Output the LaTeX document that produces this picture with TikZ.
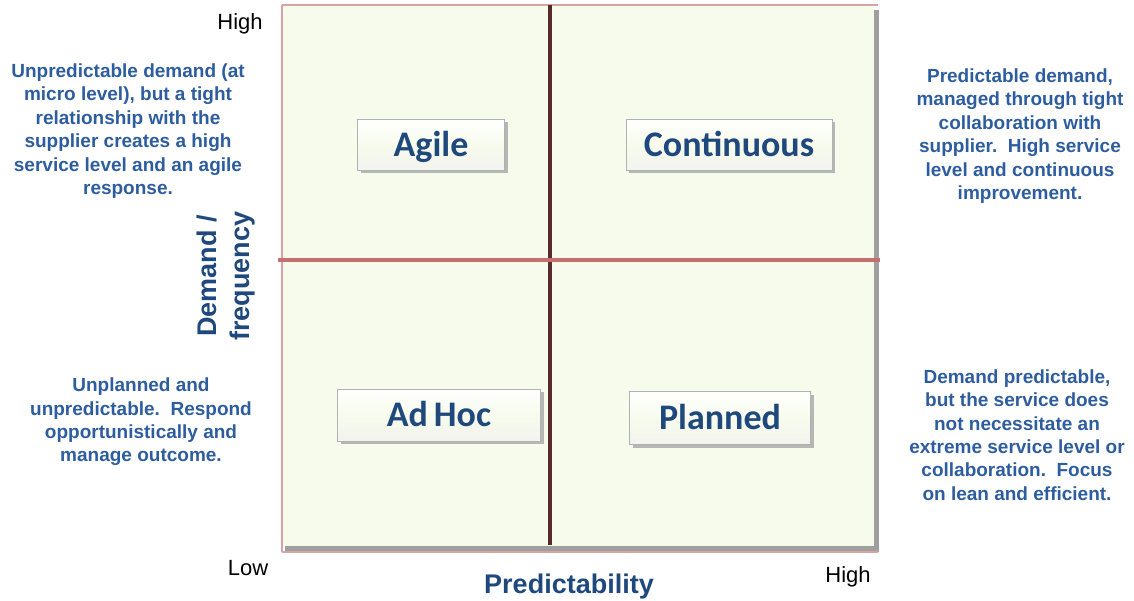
\documentclass[tikz,border=0pt]{standalone}
\usepackage{fontspec}
\setmainfont{Liberation Sans}
\newfontfamily\btnfont{Carlito}
\usetikzlibrary{shadows}

\definecolor{quadfill}{HTML}{F7FBEC}
\definecolor{rimpink}{HTML}{D8A3A3}
\definecolor{splitv}{HTML}{5A2A2A}
\definecolor{splith}{HTML}{C76E6E}
\definecolor{btnblue}{HTML}{1F497D}
\definecolor{noteblue}{HTML}{2D5D9E}

\tikzset{
  quadbtn/.style={draw=gray!60, top color=white, bottom color=quadfill!75!gray!35,
    middle color=quadfill, font=\btnfont\bfseries\fontsize{36}{40}\selectfont,
    text height=23pt, text depth=0pt,
    text=btnblue, drop shadow={shadow xshift=3pt, shadow yshift=-3pt, fill=gray!70, opacity=0.8}},
  note/.style={align=center, text=noteblue, font=\bfseries\fontsize{19}{23.4}\selectfont},
  axislabel/.style={text=btnblue, font=\bfseries\fontsize{27}{33}\selectfont},
  tick/.style={font=\fontsize{22}{24}\selectfont}
}

\begin{document}
\begin{tikzpicture}[x=1pt, y=-1pt]
  \useasboundingbox (0,0) rectangle (1134,601);

  % grid with its shadow and rim
  \fill[gray!75] (285,10) rectangle (879,552);
  \fill[quadfill] (282,5) rectangle (874,546);
  \draw[rimpink, line width=2] (282,5) -- (878,5);
  \draw[rimpink, line width=1.5] (282,5) -- (282,552);
  \draw[rimpink, line width=2.5] (282,552) -- (878,552);
  \draw[splitv, line width=4] (550,5) -- (550,545);
  \draw[splith, line width=4] (278,260) -- (880,260);

  % quadrants
  \node[quadbtn, minimum width=147, minimum height=51] (agile) at (431,145) {Agile};
  \node[quadbtn, minimum width=206, minimum height=51] (continuous) at (729,145) {Continuous};
  \node[quadbtn, minimum width=203, minimum height=52] (adhoc) at (439,415) {Ad\,Hoc};
  \node[quadbtn, minimum width=181, minimum height=53] (planned) at (720,418) {Planned};

  % notes beside the grid
  \node[note] (agilenote) at (128,131) {Unpredictable demand (at\\ micro level), but a tight\\ relationship with the\\ supplier creates a high\\ service level and an agile\\ response.};
  \node[note] (contnote) at (1020,136) {Predictable demand,\\ managed through tight\\ collaboration with\\ supplier.\ \ High service\\ level and continuous\\ improvement.};
  \node[note] (adhocnote) at (141,422) {Unplanned and\\ unpredictable.\ \ Respond\\ opportunistically and\\ manage outcome.};
  \node[note] (plannote) at (1017,435) {Demand predictable,\\ but the service does\\ not necessitate an\\ extreme service level or\\ collaboration.\ \ Focus\\ on lean and efficient.};

  % axes
  \node[tick] (yhigh) at (240,24) {High};
  \node[tick] (xlow) at (248,568) {Low};
  \node[tick] (xhigh) at (848,577) {High};
  \node[axislabel] (xlabel) at (569,587) {Predictability};
  \node[axislabel, rotate=90, align=center, font=\bfseries\fontsize{27}{33}\selectfont] (ylabel) at (226,276) {Demand /\\ frequency};
\end{tikzpicture}
\end{document}
